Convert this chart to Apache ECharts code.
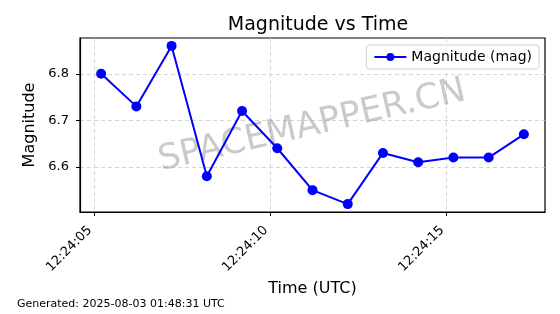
<!DOCTYPE html>
<html>
<head>
<meta charset="utf-8">
<script src="https://cdn.jsdelivr.net/npm/echarts@6/dist/echarts.min.js"></script>
<style>html,body{margin:0;padding:0;background:#fff}#c{width:560px;height:314px}</style>
</head>
<body>
<div id="c"></div>
<script>
// Data
const times = ['12:24:05.2','12:24:06.2','12:24:07.2','12:24:08.2','12:24:09.2','12:24:10.2','12:24:11.2','12:24:12.2','12:24:13.2','12:24:14.2','12:24:15.2','12:24:16.2','12:24:17.2'];
const magnitudes = [6.80, 6.73, 6.86, 6.58, 6.72, 6.64, 6.55, 6.52, 6.63, 6.61, 6.62, 6.62, 6.67];
const xTickLabels = ['12:24:05', '12:24:10', '12:24:15'];
const yTicks = [6.6, 6.7, 6.8];
const xRange = ['12:24:04.6', '12:24:17.8'];
const yRange = [6.503, 6.877];
const titleText = 'Magnitude vs Time';
const seriesName = 'Magnitude (mag)';
const footerText = 'Generated: 2025-08-03 01:48:31 UTC';
const watermark = 'SPACEMAPPER.CN';

function toSec(t) {
  const p = t.split(':');
  return (+p[0]) * 3600 + (+p[1]) * 60 + parseFloat(p[2]);
}
function fmt(s) {
  const r = Math.round(s);
  const h = Math.floor(r / 3600), m = Math.floor((r % 3600) / 60), sec = r % 60;
  const pad = n => (n < 10 ? '0' : '') + n;
  return pad(h) + ':' + pad(m) + ':' + pad(sec);
}

const data = times.map((t, i) => [toSec(t), magnitudes[i]]);
const xTickVals = xTickLabels.map(toSec);
const FONT = 'DejaVu Sans';

const chart = echarts.init(document.getElementById('c'), null, {renderer: 'canvas'});
chart.setOption({
  animation: false,
  backgroundColor: '#ffffff',
  textStyle: {fontFamily: FONT},
  title: {
    text: titleText, left: 313, top: 11, textAlign: 'center',
    textStyle: {fontFamily: FONT, fontSize: 19, fontWeight: 'normal', color: '#000'}
  },
  grid: {left: 80, right: 15, top: 38, bottom: 102, containLabel: false,
         show: true, borderColor: '#000', borderWidth: 1.2},
  legend: {
    right: 21, top: 45, itemWidth: 32, itemHeight: 10, itemGap: 6,
    padding: [5, 7, 5, 7],
    borderColor: '#d0d0d0', borderWidth: 1, borderRadius: 3, backgroundColor: 'rgba(255,255,255,0.8)',
    textStyle: {fontFamily: FONT, fontSize: 14, color: '#000'},
    data: [seriesName]
  },
  xAxis: {
    type: 'value', min: toSec(xRange[0]), max: toSec(xRange[1]),
    name: 'Time (UTC)', nameLocation: 'middle', nameGap: 68,
    nameTextStyle: {fontFamily: FONT, fontSize: 16, color: '#000', verticalAlign: 'top'},
    axisLine: {show: true, onZero: false, lineStyle: {color: '#000', width: 1.2}},
    axisTick: {show: true, length: 4, customValues: xTickVals, lineStyle: {color: '#000', width: 1}},
    axisLabel: {customValues: xTickVals, rotate: 45, margin: 12, padding: [0, 6, 0, 0],
                fontFamily: FONT, fontSize: 13, color: '#000',
                formatter: v => fmt(v)},
    splitLine: {show: true, lineStyle: {color: '#cccccc', type: [4, 3], width: 0.8}}
  },
  yAxis: {
    type: 'value', min: yRange[0], max: yRange[1],
    name: 'Magnitude', nameLocation: 'middle', nameGap: 40, nameRotate: 90,
    nameTextStyle: {fontFamily: FONT, fontSize: 16, color: '#000'},
    axisLine: {show: true, lineStyle: {color: '#000', width: 1.2}},
    axisTick: {show: true, length: 4, customValues: yTicks, lineStyle: {color: '#000', width: 1}},
    axisLabel: {customValues: yTicks, margin: 11, fontFamily: FONT, fontSize: 13, color: '#000',
                formatter: v => v.toFixed(1)},
    splitLine: {show: true, lineStyle: {color: '#cccccc', type: [4, 3], width: 0.8}}
  },
  graphic: [
    {type: 'text', left: 17, top: 299, z: 100,
     style: {text: footerText, font: '11px "DejaVu Sans"', fill: '#000'}},
    {type: 'text', x: 312, y: 126, rotation: 13 * Math.PI / 180, z: 1,
     style: {text: watermark, font: '35px "DejaVu Sans"', fill: 'rgba(128,128,128,0.42)',
             align: 'center', verticalAlign: 'middle'}}
  ],
  series: [{
    name: seriesName, type: 'line', data: data, z: 3,
    symbol: 'circle', symbolSize: 10,
    lineStyle: {color: '#0000ff', width: 2},
    itemStyle: {color: '#0000ff'}
  }]
});
</script>
</body>
</html>
